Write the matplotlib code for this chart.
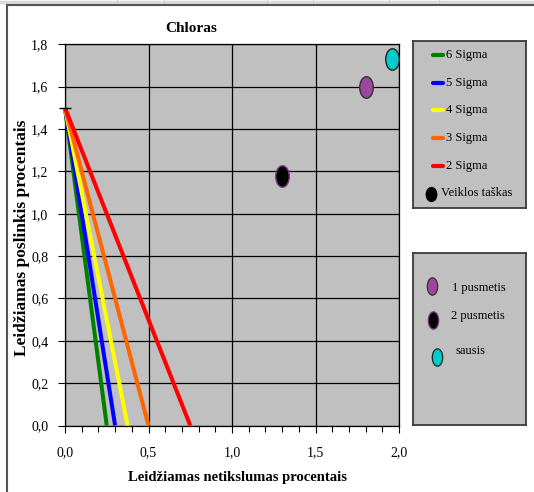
import matplotlib
matplotlib.use("Agg")
import matplotlib.pyplot as plt
from matplotlib.path import Path
from matplotlib.lines import Line2D
from matplotlib.ticker import MultipleLocator, FuncFormatter

plt.rcParams['font.family'] = ['Liberation Serif', 'DejaVu Serif']

# Sigma limit lines: allowed bias at zero imprecision, and imprecision where bias reaches zero
sigma_labels = ["6 Sigma", "5 Sigma", "4 Sigma", "3 Sigma", "2 Sigma"]
sigma_colors = ["#008000", "#0000FF", "#FFFF00", "#FF6600", "#FF0000"]
bias_at_zero = [1.5, 1.5, 1.5, 1.5, 1.5]
imprecision_at_zero_bias = [0.25, 0.30, 0.375, 0.50, 0.75]

# Performance points (imprecision %, bias %)
point_labels = ["1 pusmetis", "2 pusmetis", "sausis"]
point_x = [1.80, 1.30, 1.96]
point_y = [1.60, 1.18, 1.73]
point_colors = ["#9B479F", "#000000", "#00CCCC"]
point_edges = ["#333333", "#7A3A80", "#222222"]

x_ticks = [0.0, 0.5, 1.0, 1.5, 2.0]
y_ticks = [0.0, 0.2, 0.4, 0.6, 0.8, 1.0, 1.2, 1.4, 1.6, 1.8]

W, H = 534, 492
fig = plt.figure(figsize=(W / 100, H / 100), dpi=100)


def fx(px):
    return px / W


def fy(py):
    return 1 - py / H


def ellipse(ratio):
    c = Path.unit_circle()
    return Path(c.vertices * [ratio, 1.0], c.codes)


# outer frame
fig.add_artist(Line2D([0, 1], [fy(1.5), fy(1.5)], color="#DADADA", lw=2.5))
for sx in [117, 164, 267, 313, 389, 439]:
    fig.add_artist(Line2D([fx(sx), fx(sx)], [fy(0), fy(3)], color="#CFCFCF", lw=0.8))
fig.add_artist(Line2D([fx(7), fx(7)], [fy(5), 0], color="#555555", lw=1.5))
fig.add_artist(Line2D([fx(7), 1], [fy(5), fy(5)], color="#555555", lw=1.5))

ax = fig.add_axes([fx(65), fy(425.5), fx(399) - fx(65), fy(44.3) - fy(425.5)])
ax.set_facecolor("#C0C0C0")
ax.set_xlim(x_ticks[0], x_ticks[-1])
ax.set_ylim(y_ticks[0], y_ticks[-1])

ax.set_xticks(x_ticks)
ax.xaxis.set_minor_locator(MultipleLocator(0.1))
ax.set_yticks(y_ticks)
comma = FuncFormatter(lambda v, p: f"{v:.1f}".replace(".", ","))
ax.xaxis.set_major_formatter(comma)
ax.yaxis.set_major_formatter(comma)
ax.grid(True, which="major", color="black", lw=0.9)
ax.set_axisbelow(True)
ax.tick_params(axis="x", which="major", direction="out", length=5, width=0.8,
               pad=10, labelsize=10)
ax.tick_params(axis="x", which="minor", direction="out", length=4, width=0.8)
ax.tick_params(axis="y", which="major", direction="out", length=5, width=0.8,
               pad=7, labelsize=10)
for s in ax.spines.values():
    s.set_color("black")
    s.set_linewidth(0.9)

for lab, col, b0, x0 in zip(sigma_labels, sigma_colors, bias_at_zero, imprecision_at_zero_bias):
    ax.plot([0, x0], [b0, 0], color=col, lw=2.9, solid_capstyle="butt", zorder=3,
            clip_on=False)
ax.plot([0], [bias_at_zero[0]], marker="_", ms=8, mew=1.0, color="black",
        clip_on=False, zorder=4)

for x, y, c, e in zip(point_x, point_y, point_colors, point_edges):
    ax.plot([x], [y], marker=ellipse(0.63), ms=15.5, color=c, mec=e, mew=1.0,
            ls="none", zorder=5)

fig.text(fx(191), fy(28), "Chloras", ha="center", va="center",
         fontsize=11, fontweight="bold")
fig.text(fx(237), fy(478), "Leidžiamas netikslumas procentais", ha="center",
         va="center", fontsize=10.5, fontweight="bold")
fig.text(fx(22), fy(238), "Leidžiamas poslinkis procentais", ha="center",
         va="center", rotation=90, fontsize=12.5, fontweight="bold")

# legend box for the limit lines
lg1 = fig.add_axes([fx(412.7), fy(208), fx(526) - fx(412.7), fy(41) - fy(208)])
lg1.set_xlim(412.7, 526)
lg1.set_ylim(208, 41)
lg1.set_facecolor("#C0C0C0")
lg1.set_xticks([])
lg1.set_yticks([])
for s in lg1.spines.values():
    s.set_color("#3A3A3A")
    s.set_linewidth(1.3)
rows = [55, 82.5, 110, 138, 166]
for lab, col, ry in zip(sigma_labels, sigma_colors, rows):
    lg1.plot([433, 443], [ry, ry], color=col, lw=3.0, solid_capstyle="round")
    lg1.text(446, ry, lab, va="center", ha="left", fontsize=9)
lg1.plot([431], [193.5], marker=ellipse(0.75), ms=10, color="black", ls="none")
lg1.text(440.5, 193, "Veiklos taškas", va="center", ha="left", fontsize=9)

# legend box for the performance points
lg2 = fig.add_axes([fx(412.7), fy(425), fx(526) - fx(412.7), fy(253) - fy(425)])
lg2.set_xlim(412.7, 526)
lg2.set_ylim(425, 253)
lg2.set_facecolor("#C0C0C0")
lg2.set_xticks([])
lg2.set_yticks([])
for s in lg2.spines.values():
    s.set_color("#3A3A3A")
    s.set_linewidth(1.3)
mk_pos = [(432, 286), (433, 320), (437, 357)]
txt_pos = [(451.5, 287.5), (450.5, 316.5), (455, 351.5)]
for lab, c, e, (mx, my), (tx, ty) in zip(point_labels, point_colors, point_edges,
                                         mk_pos, txt_pos):
    lg2.plot([mx], [my], marker=ellipse(0.6), ms=12.5, color=c, mec=e, mew=0.9, ls="none")
    lg2.text(tx, ty, lab, va="center", ha="left", fontsize=9)

fig.savefig("out.png", dpi=100)
